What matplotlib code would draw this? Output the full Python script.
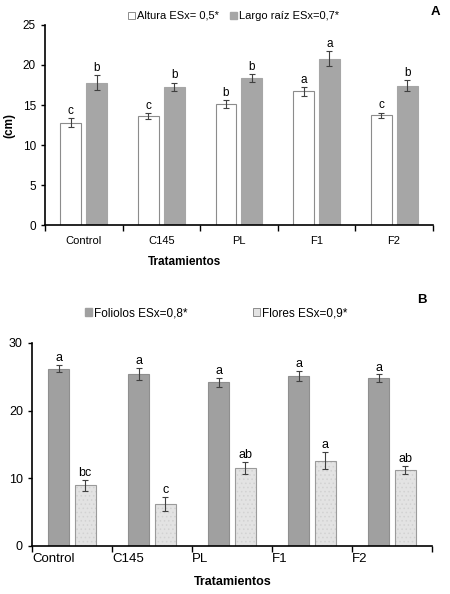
import matplotlib
matplotlib.use("Agg")
import matplotlib.pyplot as plt
from matplotlib.patches import Patch
import numpy as np

plt.rcParams['font.family'] = ['Liberation Sans', 'DejaVu Sans']
plt.rcParams['hatch.linewidth'] = 0.6

categories = ["Control", "C145", "PL", "F1", "F2"]

# Panel A
altura = [12.8, 13.6, 15.1, 16.7, 13.7]
altura_err = [0.55, 0.4, 0.5, 0.55, 0.35]
altura_letters = ["c", "c", "b", "a", "c"]
raiz = [17.8, 17.3, 18.4, 20.8, 17.4]
raiz_err = [0.95, 0.5, 0.5, 0.9, 0.7]
raiz_letters = ["b", "b", "b", "a", "b"]

# Panel B
foliolos = [26.2, 25.4, 24.2, 25.1, 24.8]
foliolos_err = [0.55, 0.9, 0.65, 0.75, 0.55]
foliolos_letters = ["a", "a", "a", "a", "a"]
flores = [8.95, 6.2, 11.5, 12.6, 11.2]
flores_err = [0.8, 1.05, 0.9, 1.3, 0.6]
flores_letters = ["bc", "c", "ab", "a", "ab"]

fig = plt.figure(figsize=(4.5, 5.94), dpi=100)

x = np.arange(len(categories))

# ---------- Panel A ----------
axA = fig.add_axes([0.1, 0.621, 0.862, 0.337])
w = 0.27
off = 0.167
axA.bar(x - off, altura, w, color='white', edgecolor='#8c8c8c', linewidth=0.8)
axA.bar(x + off, raiz, w, color='#a6a6a6', edgecolor='#a6a6a6', linewidth=0.8)
axA.errorbar(x - off, altura, yerr=altura_err, fmt='none', ecolor='#404040', elinewidth=0.8, capsize=2, capthick=0.8)
axA.errorbar(x + off, raiz, yerr=raiz_err, fmt='none', ecolor='#404040', elinewidth=0.8, capsize=2, capthick=0.8)
for i in range(len(categories)):
    axA.text(x[i] - off, altura[i] + altura_err[i] + 0.15, altura_letters[i], ha='center', va='bottom', fontsize=8.5)
    axA.text(x[i] + off, raiz[i] + raiz_err[i] + 0.15, raiz_letters[i], ha='center', va='bottom', fontsize=8.5)
axA.set_xlim(-0.5, len(categories) - 0.5)
axA.set_ylim(0, 25)
axA.set_yticks([0, 5, 10, 15, 20, 25])
axA.set_xticks(x)
axA.set_xticklabels(categories, fontsize=8)
axA.tick_params(axis='x', length=0, pad=8)
axA.set_xticks(np.arange(-0.5, len(categories)), minor=True)
axA.tick_params(axis='x', which='minor', length=4, width=1, direction='out')
axA.tick_params(axis='y', labelsize=8.5, length=3, width=1, direction='out')
for s in ['top', 'right']:
    axA.spines[s].set_visible(False)
for s in ['left', 'bottom']:
    axA.spines[s].set_linewidth(1.2)
axA.set_ylabel("(cm)", fontsize=8.5, fontweight='bold', labelpad=5)
fig.text(185 / 450, 1 - 262 / 594, "Tratamientos", ha='center', va='center', fontsize=8.5, fontweight='bold')
fig.text(435 / 450, 1 - 12 / 594, "A", ha='center', va='center', fontsize=9.5, fontweight='bold')
handlesA = [Patch(facecolor='white', edgecolor='#8c8c8c', linewidth=0.7),
            Patch(facecolor='#a6a6a6', edgecolor='#a6a6a6')]
fig.legend(handlesA, ["Altura ESx= 0,5*", "Largo raíz ESx=0,7*"], loc='center',
           bbox_to_anchor=(234 / 450, 1 - 16 / 594), ncol=2, frameon=False, fontsize=8,
           handlelength=0.6, handleheight=0.6, handletextpad=0.2, columnspacing=1.0)

# ---------- Panel B ----------
axB = fig.add_axes([0.071, 0.081, 0.889, 0.3418])
wb = 0.26
offb = 0.166
axB.bar(x - offb, foliolos, wb, color='#a0a0a0', edgecolor='#8f8f8f', linewidth=0.8)
axB.bar(x + offb, flores, wb, color='#e3e3e3', edgecolor='#d2d2d2', linewidth=0,
        hatch='....')
axB.bar(x + offb, flores, wb, color='none', edgecolor='#9a9a9a', linewidth=0.8)
axB.errorbar(x - offb, foliolos, yerr=foliolos_err, fmt='none', ecolor='#404040', elinewidth=0.8, capsize=2, capthick=0.8)
axB.errorbar(x + offb, flores, yerr=flores_err, fmt='none', ecolor='#404040', elinewidth=0.8, capsize=2, capthick=0.8)
for i in range(len(categories)):
    axB.text(x[i] - offb, foliolos[i] + foliolos_err[i] + 0.1, foliolos_letters[i], ha='center', va='bottom', fontsize=9)
    axB.text(x[i] + offb, flores[i] + flores_err[i] + 0.1, flores_letters[i], ha='center', va='bottom', fontsize=9)
axB.set_xlim(-0.5, len(categories) - 0.5)
axB.set_ylim(0, 30)
axB.set_yticks([0, 10, 20, 30])
axB.set_xticks(np.arange(-0.5, len(categories)))
axB.set_xticklabels([])
axB.tick_params(axis='x', length=4, width=1, direction='out')
axB.tick_params(axis='y', labelsize=9, length=3, width=1, direction='out')
for i, c in enumerate(categories):
    axB.text(i - 0.5, -0.035, c, transform=axB.get_xaxis_transform(), ha='left', va='top', fontsize=9.5)
for s in ['top', 'right']:
    axB.spines[s].set_visible(False)
for s in ['left', 'bottom']:
    axB.spines[s].set_linewidth(1.2)
fig.text(233 / 450, 1 - 582 / 594, "Tratamientos", ha='center', va='center', fontsize=9, fontweight='bold')
fig.text(422 / 450, 1 - 300 / 594, "B", ha='center', va='center', fontsize=9.5, fontweight='bold')
handlesB = [Patch(facecolor='#a0a0a0', edgecolor='#a0a0a0'),
            Patch(facecolor='#e3e3e3', edgecolor='#8c8c8c', linewidth=0.7)]
fig.legend(handlesB, ["Foliolos ESx=0,8*", "Flores ESx=0,9*"], loc='center',
           bbox_to_anchor=(216 / 450, 1 - 313 / 594), ncol=2, frameon=False, fontsize=8.5,
           handlelength=0.6, handleheight=0.6, handletextpad=0.2, columnspacing=5.5)

fig.savefig("out.png", dpi=100)
